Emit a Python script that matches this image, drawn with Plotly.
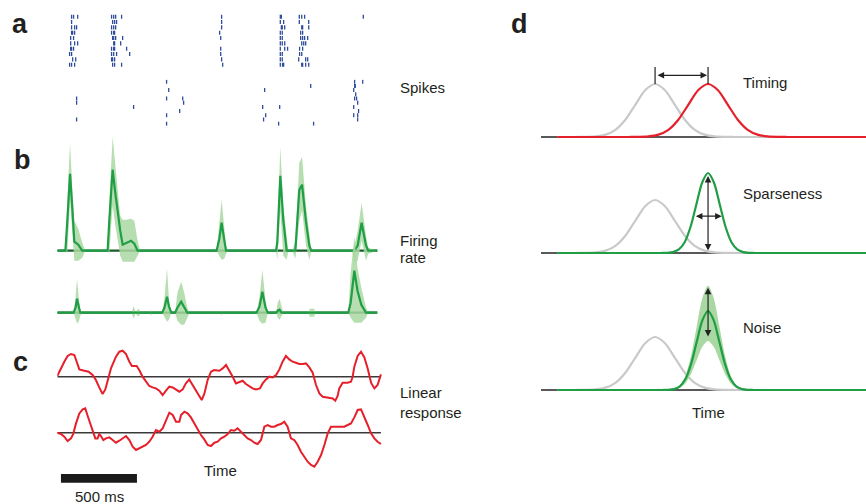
import plotly.graph_objects as go

W, H = 866, 504

# ---------------- data ----------------
# (a) spike rasters, spike times in ms, one list per trial
spikes_n1 = [
    [94, 107, 134, 357, 371, 384, 423, 1081, 1467, 1474, 1592, 1608, 1627, 2013],
    [94, 364, 377, 390, 1081, 1467, 1489, 1592, 1654],
    [94, 114, 127, 357, 371, 384, 1081, 1474, 1480, 1496, 1608, 1614, 1654],
    [94, 101, 114, 357, 371, 377, 1068, 1467, 1480, 1601, 1614],
    [88, 107, 364, 371, 384, 430, 1075, 1467, 1480, 1601, 1614, 1627, 1647],
    [88, 114, 134, 371, 377, 417, 1467, 1480, 1496, 1608, 1621, 1634],
    [88, 94, 107, 357, 371, 377, 456, 1075, 1467, 1496, 1515, 1594, 1614],
    [81, 94, 357, 371, 390, 476, 1075, 1467, 1480, 1594, 1608],
    [101, 121, 357, 364, 377, 1081, 1467, 1480, 1588, 1634, 1647],
    [81, 94, 114, 364, 377, 423, 1088, 1467, 1482, 1489, 1608, 1614, 1634, 1654],
]
spikes_n2 = [
    [719, 1956, 2009],
    [1667, 1956, 1960],
    [733, 1364, 1950],
    [1963],
    [127, 719, 825, 1956, 1969],
    [127, 831, 1976],
    [502, 1351, 1463, 1950],
    [805, 1982],
    [719, 1371, 1950, 1976],
    [127, 1357, 1976],
    [719, 1456, 1686],
]

# (b) firing rate (spikes/s): time, mean, upper and lower band
fr1_t = [0, 53, 66, 84, 99, 112, 138, 164, 184,
         331, 342, 364, 382, 397, 414, 430, 454, 485, 507, 528, 546,
         1048, 1066, 1081, 1099, 1110, 1125,
         1439, 1447, 1467, 1487, 1509, 1520,
         1546, 1566, 1592, 1610, 1636, 1658, 1671,
         1940, 1954, 1976, 2002, 2031, 2046, 2105]
fr1_mean = [0, 0, 30, 77, 42, 9, 6, 0, 0,
            0, 30, 81, 57, 37, 20, 6, 8, 10, 7, 0, 0,
            0, 12, 28, 10, 0, 0,
            0, 8, 75, 30, 0, 0,
            0, 0, 61, 66, 29, 5, 0,
            0, 0, 5, 28, 5, 0, 0]
fr1_hi = [0, 0, 50, 108, 60, 30, 22, 8, 0,
          0, 50, 114, 85, 58, 35, 31, 31, 32, 30, 10, 0,
          0, 25, 51, 22, 5, 0,
          0, 15, 104, 45, 10, 0,
          0, 10, 88, 94, 45, 15, 0,
          0, 5, 20, 48, 15, 3, 0]
fr1_lo = [0, 0, -3, 50, 15, -10, -10, -7, 0,
          0, -3, 45, 25, 10, -5, -11, -11, -11, -11, -5, 0,
          0, -5, -9, -8, -3, 0,
          0, -9, 40, -5, -9, 0,
          0, -8, 30, 40, 5, -9, 0,
          0, -12, -10, 10, -10, -3, 0]

fr2_t = [0, 107, 120, 130, 143, 151, 165,
         490, 502, 515, 535, 550,
         610, 616, 625,
         690, 705, 722, 735, 750,
         775, 790, 815, 835, 855, 870,
         1075, 1081, 1090,
         1310, 1330, 1349, 1370, 1385,
         1440, 1450, 1462, 1475, 1487,
         1655, 1660, 1690, 1697,
         1914, 1930, 1954, 1975, 2000, 2031, 2045, 2105]
fr2_mean = [0, 0, 5, 14, 5, 0, 0,
            0, 0, 0, 0, 0,
            0, 0, 0,
            0, 5, 16, 6, 0,
            0, 5, 11, 5, 0, 0,
            0, 0, 0,
            0, 6, 21, 5, 0,
            0, 2, 3, 0, 0,
            0, 0, 0, 0,
            0, 10, 42, 22, 8, 0, 0, 0]
fr2_hi = [0, 0, 15, 34, 12, 3, 0,
          0, 7, 1, 4, 0,
          0, 3, 0,
          0, 15, 44, 12, 0,
          0, 20, 31, 20, 5, 0,
          0, 3, 0,
          0, 15, 43, 12, 0,
          0, 10, 14, 5, 0,
          0, 4, 4, 0,
          0, 40, 76, 45, 25, 5, 0, 0]
fr2_lo = [0, 0, -6, -11, -8, -3, 0,
          0, -6, -1, -4, 0,
          0, -3, 0,
          0, -4, -9, -7, 0,
          0, -8, -12, -12, -6, 0,
          0, -3, 0,
          0, -8, -11, -10, 0,
          0, -5, -7, -3, 0,
          0, -4, -4, 0,
          0, -5, -10, -10, -10, -5, 0, 0]

# (c) linear response
lr1_t = [0, 13, 46, 68, 90, 112, 127, 145, 178, 206, 232, 254, 276, 298, 316, 331, 353, 386, 408, 430,
         452, 474, 491, 522, 539, 561, 583, 605, 627, 649, 671, 693, 715, 737, 759, 781, 803, 825, 846, 868,
         890, 912, 934, 950, 967, 989, 1011, 1033, 1066, 1088, 1110, 1132, 1154, 1175, 1197, 1219, 1241, 1263,
         1285, 1307, 1333, 1351, 1373, 1395, 1417, 1439, 1461, 1482, 1504, 1526, 1548, 1570, 1592, 1614, 1636,
         1658, 1680, 1702, 1724, 1746, 1779, 1812, 1829, 1844, 1855, 1877, 1910, 1932, 1943, 1954, 1976, 1998,
         2020, 2042, 2064, 2086, 2107, 2129]
lr1_v = [0.7, 5, 15, 20.7, 22.7, 21.7, 15, 7.3, 6, 5, 1.7, -3.3, -10.7, -17.3, -12.7, -3.3, 8.3, 20, 25, 26,
         22.7, 15, 10.7, 10.7, 6.7, 0, -5, -9.3, -10.7, -11.7, -14, -18.3, -14, -10, -10.7, -12.7, -15, -12.7, -6.7, -2.7,
         -8.3, -15, -20, -23.3, -17.3, -3.3, 5, 6.7, 6, 8.3, 11.7, 6, 0, -6.7, -5, -4, -7.3, -9.3,
         -11.7, -12.7, -11.7, -6.7, -2.7, 0, -0.7, 1.7, 7.3, 15, 20.7, 17.3, 15, 14, 12.7, 12.7, 13.3,
         9.3, 4, -8.3, -16.7, -20, -20.7, -21.7, -24, -19.3, -11.7, -6, -6, -5, 0, 10, 20.7, 25,
         19.3, 8.3, -6, -11.7, -8.3, 2.3]
lr2_t = [0, 24, 46, 68, 90, 105, 123, 145, 167, 184, 200, 215, 232, 250, 265, 276, 287, 303, 320, 342,
         364, 386, 408, 430, 452, 474, 496, 518, 539, 561, 583, 605, 627, 649, 671, 693, 715, 737, 759, 781,
         803, 814, 836, 857, 879, 901, 923, 945, 967, 989, 1011, 1033, 1055, 1077, 1099, 1121, 1142, 1164, 1186, 1208,
         1230, 1252, 1274, 1296, 1318, 1340, 1362, 1384, 1406, 1428, 1450, 1471, 1493, 1515, 1537, 1559, 1581, 1603, 1625, 1647,
         1669, 1691, 1713, 1735, 1757, 1779, 1800, 1822, 1844, 1866, 1888, 1910, 1932, 1954, 1976, 1998, 2020, 2042, 2064, 2086,
         2107, 2129]
lr2_v = [0, -1.3, -4, -8.3, -5.7, -1.3, 9.3, 19.3, 23.3, 24.3, 16.7, 9.3, 2.7, -5.7, -5.7, -1.3, -3.3, -7.3, -5.7, -4.7,
         -7.3, -10, -8, -5.7, -3.3, -7.3, -14, -17.3, -15.7, -13.3, -12.3, -9, -4, 2.7, 1, 4.3, 12.7, 20, 17.7, 11,
         11, 17.7, 21, 19.3, 15.3, 9.3, 2.7, -2.3, -6.7, -12.3, -13.3, -10, -9, -5.7, -4, -1.3, 2.7, 2, 4.3, 1,
         -2.3, -5.7, -7.3, -10, -11.3, -7.3, 6, 7.7, 6, 6, 7.7, 8.7, 11, 6, -5.7, -7.3, -12.3, -19, -24, -29,
         -32.3, -34, -29, -22.3, -12.3, -0.7, 6, 6, 5.3, 5.3, 6, 7.7, 9.3, 15.3, 22.7, 23.3, 16, 7.7, -0.7, -5.7,
         -9, -11.3]
scale_bar_start_ms = 24
scale_bar_ms = 500

# (d) schematic response profiles (shape, in sigma units)
bump_offsets = [-4, -3.5, -3, -2.5, -2, -1.5, -1, -0.5, 0, 0.5, 1, 1.5, 2, 2.5, 3, 3.5, 4]
bump_shape = [0.0003, 0.002, 0.011, 0.044, 0.135, 0.325, 0.607, 0.882, 1.0,
              0.882, 0.607, 0.325, 0.135, 0.044, 0.011, 0.002, 0.0003]
d_span = [0, 100]          # time axis extent of panel d
d_curve_start = 5
ref_center, ref_width, ref_height = 35.1, 6.1, 53       # grey reference
shift_center = 51.4                                      # shifted response
timing_width, timing_height = 6.1, 53
sparse_width, sparse_height = 3.6, 80
noise_width, noise_height = 3.5, 79
noise_hi, noise_lo = 1.32, 0.62

# ---------------- colours ----------------
BLUE = "#2f4c9c"
GREEN = "#1f9e46"
DKGREEN = "#1c5a2c"
BAND = "#a9d8a2"
RED = "#e5202a"
GREY = "#c9c9c9"
TXT = "#231f20"
FONT = "Liberation Sans, Arial, sans-serif"

fig = go.Figure()


def raster(spikes, yax, half):
    xs, ys = [], []
    for k, trial in enumerate(spikes):
        for t in trial:
            xs += [t, t, None]
            ys += [k - half, k + half, None]
    fig.add_trace(go.Scatter(x=xs, y=ys, mode="lines", xaxis="x", yaxis=yax,
                             line=dict(color=BLUE, width=1.3), hoverinfo="skip"))


raster(spikes_n1, "y", 0.38)
raster(spikes_n2, "y2", 0.48)


def rate(t, m, hi, lo, yax):
    fig.add_trace(go.Scatter(x=[t[0], t[-1]], y=[0, 0], mode="lines", xaxis="x", yaxis=yax,
                             line=dict(color=DKGREEN, width=2.2), hoverinfo="skip"))
    fig.add_trace(go.Scatter(x=list(t) + list(t[::-1]), y=list(hi) + list(lo[::-1]),
                             fill="toself", fillcolor=BAND, mode="lines", line=dict(width=0),
                             opacity=0.85, xaxis="x", yaxis=yax, hoverinfo="skip"))
    fig.add_trace(go.Scatter(x=t, y=m, mode="lines", xaxis="x", yaxis=yax,
                             line=dict(color=GREEN, width=2.2), hoverinfo="skip"))


rate(fr1_t, fr1_mean, fr1_hi, fr1_lo, "y3")
rate(fr2_t, fr2_mean, fr2_hi, fr2_lo, "y4")


def linresp(t, v, yax):
    fig.add_trace(go.Scatter(x=[t[0], t[-1]], y=[0, 0], mode="lines", xaxis="x", yaxis=yax,
                             line=dict(color="#3a3a3a", width=1.4), hoverinfo="skip"))
    fig.add_trace(go.Scatter(x=t, y=v, mode="lines", xaxis="x", yaxis=yax,
                             line=dict(color=RED, width=2), hoverinfo="skip"))


linresp(lr1_t, lr1_v, "y5")
linresp(lr2_t, lr2_v, "y6")


def bump(center, width, height):
    xs = [d_curve_start] + [center + o * width for o in bump_offsets] + [d_span[1]]
    ys = [0] + [height * s for s in bump_shape] + [0]
    return xs, ys


def d_line(xs, ys, yax, color, width=2.2):
    fig.add_trace(go.Scatter(x=xs, y=ys, mode="lines", xaxis="x2", yaxis=yax,
                             line=dict(color=color, width=width, shape="spline", smoothing=0.8),
                             hoverinfo="skip"))


for yax in ["y7", "y8", "y9"]:
    fig.add_trace(go.Scatter(x=d_span, y=[0, 0], mode="lines", xaxis="x2", yaxis=yax,
                             line=dict(color="#222222", width=1.4), hoverinfo="skip"))
    gx, gy = bump(ref_center, ref_width, ref_height)
    d_line(gx, gy, yax, GREY)

# row 1: timing
rx, ry = bump(shift_center, timing_width, timing_height)
d_line(rx, ry, "y7", RED)
fig.add_trace(go.Scatter(x=[ref_center, ref_center, None, shift_center, shift_center],
                         y=[ref_height, ref_height + 17, None, timing_height, timing_height + 17],
                         mode="lines", xaxis="x2", yaxis="y7",
                         line=dict(color="#222222", width=1.2), hoverinfo="skip"))
# row 2: sparseness
sx, sy = bump(shift_center, sparse_width, sparse_height)
d_line(sx, sy, "y8", GREEN)
# row 3: noise
nx, ny_hi = bump(shift_center, noise_width, noise_height * noise_hi)
_, ny_lo = bump(shift_center, noise_width, noise_height * noise_lo)
fig.add_trace(go.Scatter(x=nx + nx[::-1], y=ny_hi + ny_lo[::-1], fill="toself", fillcolor=BAND,
                         mode="lines", line=dict(width=0, shape="spline", smoothing=0.8),
                         xaxis="x2", yaxis="y9", hoverinfo="skip"))
nx, ny = bump(shift_center, noise_width, noise_height)
d_line(nx, ny, "y9", GREEN)


def px_dom(top, bottom):
    return [1 - bottom / H, 1 - top / H]


ax_common = dict(visible=False, showgrid=False, zeroline=False, fixedrange=True)
x_dom = [57.3 / W, 382.6 / W]
layout = dict(
    width=W, height=H, margin=dict(l=0, r=0, t=0, b=0),
    paper_bgcolor="white", plot_bgcolor="rgba(0,0,0,0)", showlegend=False,
    font=dict(family=FONT, color=TXT),
    xaxis=dict(domain=x_dom, range=[0, 2140], anchor="y", **ax_common),
    xaxis2=dict(domain=[541 / W, 1], range=d_span, anchor="y7", **ax_common),
    yaxis=dict(domain=px_dom(14, 67.4), range=[9.5, -0.5], anchor="x", **ax_common),
    yaxis2=dict(domain=px_dom(79.6, 125.8), range=[10.5, -0.5], anchor="x", **ax_common),
    yaxis3=dict(domain=px_dom(130, 270), range=[-19.3, 120.7], anchor="x", **ax_common),
    yaxis4=dict(domain=px_dom(230, 330), range=[-17.3, 82.7], anchor="x", **ax_common),
    yaxis5=dict(domain=px_dom(345, 405), range=[-28.3, 31.7], anchor="x", **ax_common),
    yaxis6=dict(domain=px_dom(400, 472), range=[-39.3, 32.7], anchor="x", **ax_common),
    yaxis7=dict(domain=px_dom(55, 145), range=[-8, 82], anchor="x2", **ax_common),
    yaxis8=dict(domain=px_dom(165, 260), range=[-7, 88], anchor="x2", **ax_common),
    yaxis9=dict(domain=px_dom(280, 398), range=[-8, 110], anchor="x2", **ax_common),
)
fig.update_layout(**layout)

# scale bar
fig.add_shape(type="rect", xref="x", yref="paper",
              x0=scale_bar_start_ms, x1=scale_bar_start_ms + scale_bar_ms,
              y0=1 - 482.7 / H, y1=1 - 474 / H, fillcolor="#1a1a1a", line=dict(width=0))

ann = []


def lab(text, x, y, size=15, bold=False, xanchor="left"):
    ann.append(dict(text=("<b>%s</b>" % text) if bold else text, x=x / W, y=1 - y / H,
                    xref="paper", yref="paper", xanchor=xanchor, yanchor="middle",
                    showarrow=False, font=dict(size=size, family=FONT, color=TXT)))


lab("a", 10, 23.6, 27, True)
lab("b", 12, 160, 27, True)
lab("c", 11, 362, 27, True)
lab("d", 509, 24, 27, True)
lab("Spikes", 398, 87.2)
lab("Firing", 398, 240.5)
lab("rate", 398, 257)
lab("Linear", 398, 392)
lab("response", 398, 412)
lab("Time", 220, 470.5, xanchor="center")
lab("500 ms", 99, 496.5, xanchor="center")
lab("Timing", 741, 82.8)
lab("Sparseness", 741, 193.8)
lab("Noise", 741, 327)
lab("Time", 708, 412, xanchor="center")


def arrow(x0, y0, x1, y1, yref):
    ann.append(dict(x=x1, y=y1, ax=x0, ay=y0, xref="x2", yref=yref, axref="x2", ayref=yref,
                    text="", showarrow=True, arrowhead=2, arrowside="end+start",
                    arrowsize=1.1, arrowwidth=1.2, arrowcolor="#222222", standoff=0, startstandoff=0))


arrow(ref_center + 0.3, ref_height + 8.7, shift_center - 0.3, ref_height + 8.7, "y7")
arrow(shift_center, 1, shift_center, sparse_height - 3, "y8")
arrow(shift_center - 1.17 * sparse_width, sparse_height * 0.46,
      shift_center + 1.17 * sparse_width, sparse_height * 0.46, "y8")
arrow(shift_center, noise_height * noise_lo + 3, shift_center, noise_height * noise_hi - 2, "y9")

fig.update_layout(annotations=ann)
fig.write_html("out.html", config={"displayModeBar": False},
               post_script="document.body.style.margin='0';document.body.style.padding='0';")
